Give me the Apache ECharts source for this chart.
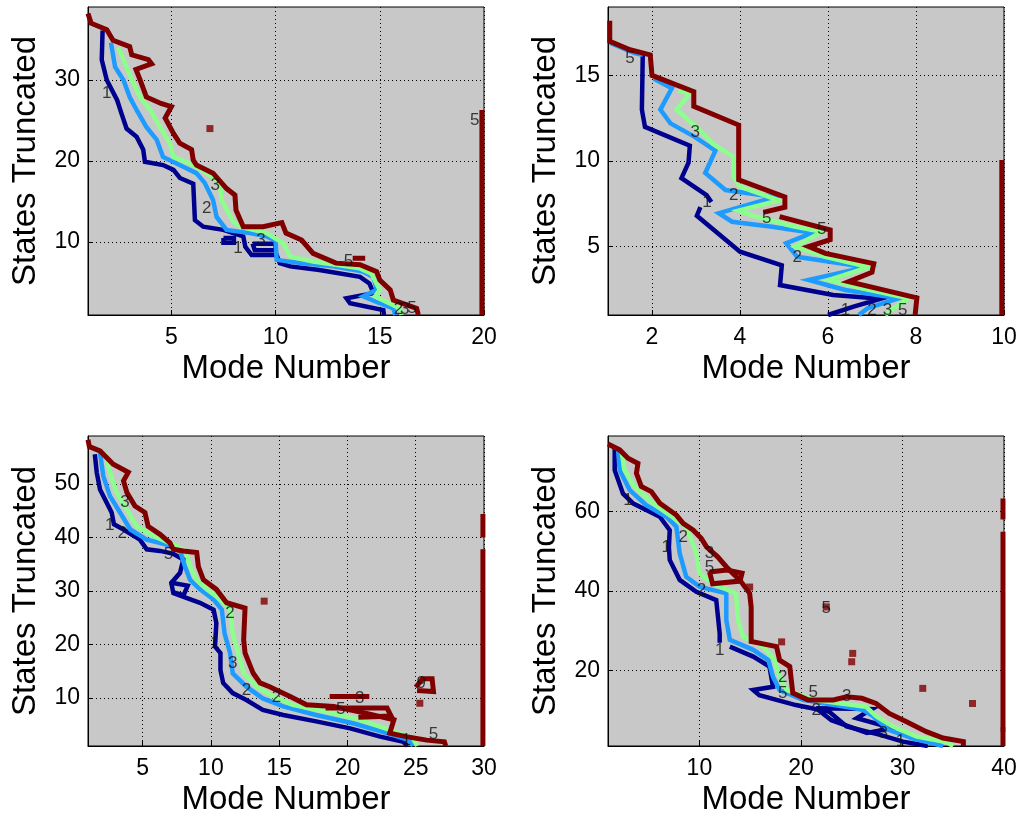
<!DOCTYPE html>
<html>
<head>
<meta charset="UTF-8">
<title>Mode Number vs States Truncated</title>
<script src="https://cdn.jsdelivr.net/npm/echarts@6/dist/echarts.min.js"></script>
<style>
  html, body { margin: 0; padding: 0; background: #fff; }
  #container { width: 1024px; height: 819px; }
</style>
</head>
<body>
<div id="container"></div>
<script>
// axis ranges and tick labels (one entry per panel)
var xMax = [20, 10, 30, 40];
var yMax = [39, 19, 59, 79];
var xTicks = [[5, 10, 15, 20], [2, 4, 6, 8, 10], [5, 10, 15, 20, 25, 30], [10, 20, 30, 40]];
var yTicks = [[10, 20, 30], [5, 10, 15], [10, 20, 30, 40, 50], [20, 40, 60]];

// panel 1 (20 modes) - contour levels 1, 2, 3, 5
var p1Level1 = [
  [[1.7,36.1],[1.66,32.5],[1.9,30.0],[2.4,27.5],[2.6,25.9],[2.85,24.0],[3.33,23.0],[3.65,21.4],[3.73,19.9],[4.6,19.5],[5.1,18.9],[5.41,17.9],[6.05,17.2],[6.13,12.7],[6.53,11.9],[7.49,11.5],[8.45,10.7],[8.55,9.4],[8.85,8.4],[10.05,8.4],[10.2,7.4],[10.7,7.0],[12.1,6.55],[14.05,5.7],[14.5,4.9],[14.7,3.7],[13.4,3.05],[13.57,2.45],[15.17,1.6],[15.2,1.0]],
  [[7.5,10.5],[8.0,10.5],[8.0,9.9],[7.5,9.9],[7.5,10.5]],
  [[8.9,9.8],[10.0,9.8],[10.0,9.0],[9.0,9.0],[8.9,9.8]]
];
var p1Level2 = [
  [[2.1,34.6],[2.3,31.6],[2.7,30.0],[3.0,27.9],[3.33,26.3],[3.8,24.2],[4.3,22.6],[4.6,20.5],[5.57,19.3],[6.2,18.5],[6.6,17.3],[7.0,15.2],[7.17,13.1],[7.65,11.5],[8.77,11.1],[9.57,10.7],[10.0,10.2],[10.05,7.8],[11.2,7.4],[12.77,7.0],[14.2,6.35],[14.7,5.7],[14.85,4.1],[14.2,3.3],[14.85,2.6],[15.65,1.8],[15.75,1.0]]
];
var p1Level3 = [
  [[2.45,34.0],[2.7,32.5],[3.1,30.0],[3.5,27.9],[3.98,26.3],[4.45,24.2],[4.93,22.2],[5.1,20.5],[5.9,19.7],[6.7,18.5],[7.33,17.25],[7.4,15.2],[7.97,12.5],[8.3,11.9],[9.57,11.1],[10.37,9.85],[10.7,8.2],[11.8,7.6],[14.05,6.75],[14.6,6.1],[15.0,4.1],[14.77,3.3],[15.33,2.6],[15.97,1.8],[16.05,1.0]],
  [[19.9,2.2],[19.9,3.0]]
];
var p1Level5 = [
  [[1.0,38.2],[1.15,37.0],[1.9,36.2],[2.2,34.9],[3.0,34.1],[3.1,33.1],[3.9,32.5],[4.05,32.0],[3.3,31.3],[3.5,30.0],[3.8,27.9],[4.5,27.1],[5.0,26.7],[4.7,25.3],[5.1,23.4],[5.4,22.2],[5.97,21.4],[6.05,20.1],[6.2,19.5],[7.0,18.5],[7.65,16.6],[8.05,15.8],[8.1,13.95],[8.45,11.9],[9.4,11.9],[10.3,12.4],[10.5,11.1],[11.25,10.25],[11.8,8.6],[12.9,7.4],[14.05,7.2],[14.85,6.35],[15.0,5.3],[15.5,4.1],[15.65,2.85],[16.77,1.8],[16.85,1.0]],
  [[13.7,8.0],[14.3,8.0]],
  [[19.9,1.0],[19.9,21.4],[19.9,26.3]]
];
var p1Spots = [[6.85, 24.0]];
var p1Labels = [['1',1.9,28.4],['3',7.1,17.0],['2',6.7,14.2],['1',8.2,9.2],['3',9.3,10.2],['5',13.5,7.6],['2',15.9,1.7],['3',16.2,1.7],['5',16.55,1.8],['5',19.55,25.0]];

// panel 2 (10 modes)
var p2Level1 = [
  [[1.79,16.2],[1.77,13.0],[1.84,12.0],[2.3,11.5],[2.86,10.9],[2.83,9.9],[2.67,9.0],[3.24,8.0],[3.35,7.6]],
  [[3.1,7.3],[3.02,6.8],[4.0,4.7],[4.95,3.9],[4.91,2.75],[6.12,2.17],[7.2,1.95],[6.6,1.5],[6.0,1.0]]
];
var p2Level2 = [
  [[1.05,16.9],[1.6,16.3],[1.79,16.2]],
  [[2.04,14.8],[2.45,14.25],[2.19,13.0],[2.42,12.2],[2.98,11.4],[3.44,10.6],[3.21,9.3],[3.67,8.3],[4.8,7.9],[3.52,6.95],[3.82,6.45],[4.73,6.16],[5.64,5.8],[5.05,5.2],[5.3,4.4],[6.85,3.8],[5.56,3.05],[6.39,2.46],[7.6,1.97],[6.9,1.4],[6.7,1.0]]
];
var p2Level3 = [
  [[1.45,16.55],[1.75,16.35]],
  [[2.6,14.1],[2.86,13.95],[2.56,13.0],[3.0,12.0],[3.39,11.0],[3.85,10.25],[3.85,9.1],[4.0,8.5],[4.88,7.7],[3.97,7.1],[4.3,6.8],[5.18,6.2],[5.86,5.87],[5.26,5.0],[5.94,4.4],[6.92,3.8],[6.02,3.05],[6.77,2.56],[7.83,1.97],[7.5,1.4],[7.3,1.0]],
  [[9.95,1.8],[9.95,2.3]]
];
var p2Level5 = [
  [[1.04,18.2],[1.04,17.0],[1.5,16.5],[1.96,16.2],[2.0,15.0],[2.95,14.05],[2.95,13.2],[3.97,12.1],[3.97,8.9],[5.02,7.9],[5.02,7.3],[4.53,7.0]],
  [[4.9,6.75],[6.05,5.97],[6.05,5.4],[5.56,5.0],[5.94,4.6],[7.04,4.0],[7.0,3.5],[6.47,2.95],[8.02,2.0],[7.98,1.0]],
  [[9.95,1.0],[9.95,10.06]]
];
var p2Spots = [];
var p2Labels = [['5',1.5,16.0],['3',2.98,11.7],['2',3.86,8.0],['1',3.25,7.6],['5',4.61,6.65],['5',5.86,6.0],['2',5.3,4.4],['1',6.4,1.25],['2',7.0,1.25],['3',7.35,1.25],['5',7.7,1.25]];

// panel 3 (30 modes)
var p3Level1 = [
  [[1.5,55.6],[1.64,52.2],[1.88,49.0],[2.37,46.5],[2.73,44.7],[2.9,42.5],[3.6,41.5],[4.8,39.6],[5.3,37.8],[6.27,37.5],[7.2,37.0],[7.98,35.9],[7.74,33.4],[7.1,31.5],[7.25,29.6],[8.2,28.7],[9.2,27.8],[10.2,26.5],[10.4,24.0],[10.3,19.6],[10.7,18.4],[10.7,15.2],[10.9,12.8],[11.6,10.9],[12.6,9.6],[13.8,7.75],[15.3,6.8],[17.7,5.6],[20.2,4.3],[22.4,2.75],[24.1,1.8],[24.4,1.0]],
  [[7.0,31.6],[8.3,31.0],[8.0,29.2],[7.2,29.8]]
];
var p3Level2 = [
  [[1.88,55.9],[2.12,51.5],[2.6,47.8],[3.2,45.3],[4.1,41.5],[5.3,39.6],[6.75,38.7],[7.74,37.5],[8.1,34.6],[8.47,32.1],[9.2,30.3],[10.2,28.4],[10.8,26.5],[11.0,22.1],[11.4,18.4],[11.6,14.6],[12.6,12.1],[13.8,9.9],[15.3,8.4],[17.7,6.8],[20.4,5.25],[22.9,3.4],[24.5,2.1],[24.8,1.0]]
];
var p3Level3 = [
  [[2.25,55.9],[2.6,52.2],[3.1,48.4],[3.7,45.9],[4.56,42.1],[5.8,40.3],[7.5,38.4],[8.2,37.2],[8.47,34.6],[8.96,32.1],[9.7,30.3],[10.7,28.4],[11.4,26.5],[11.6,22.1],[12.0,18.4],[12.4,14.6],[13.35,12.1],[14.6,10.25],[16.0,8.7],[18.5,7.4],[20.9,5.9],[23.1,4.0],[24.8,2.45],[25.1,1.0]],
  [[29.92,2.6],[29.92,3.6]]
];
var p3Level5 = [
  [[1.0,58.3],[1.1,57.0],[1.88,56.2],[2.85,53.7],[3.95,52.2],[3.6,50.6],[3.85,48.4],[4.44,45.9],[5.17,44.7],[5.4,42.1],[6.27,40.6],[7.0,39.0],[7.25,37.8],[7.98,37.5],[8.96,37.2],[9.08,34.6],[9.45,32.1],[10.4,30.3],[11.15,27.8],[12.5,26.8],[12.4,20.9],[12.5,18.4],[13.1,14.6],[13.6,12.8],[14.3,12.1],[15.8,10.25],[17.0,8.7],[19.0,8.4],[21.4,7.1],[23.4,5.9],[23.1,3.4],[24.3,2.75],[25.8,2.1],[27.1,1.8],[27.2,1.0]],
  [[18.7,10.25],[21.6,10.25]],
  [[18.4,8.1],[22.9,8.1],[23.2,6.6],[20.8,6.4]],
  [[25.0,12.0],[25.5,13.6],[26.2,13.6],[26.3,11.2],[25.1,11.4]],
  [[29.92,1.0],[29.92,37.8]],
  [[29.92,40.0],[29.92,44.4]]
];
var p3Spots = [[13.9, 28.1], [25.3, 9.0]];
var p3Labels = [['1',2.6,42.3],['2',3.5,40.8],['3',3.7,46.5],['5',6.9,36.9],['2',11.4,25.9],['1',10.3,20.3],['3',11.6,16.5],['2',12.6,11.5],['2',14.8,10.2],['3',20.9,10.0],['5',19.5,7.8],['9',25.4,12.8],['1',24.3,2.0],['5',26.3,3.1]];

// panel 4 (40 modes)
var p4Level1 = [
  [[1.66,75.9],[1.66,70.4],[2.48,64.5],[3.5,62.0],[4.77,60.4],[6.1,58.7],[7.08,55.3],[7.0,51.0],[7.08,47.8],[8.06,42.8],[9.7,39.8],[11.66,37.7],[12.0,29.3],[12.0,27.0]],
  [[13.0,26.0],[15.3,23.5],[16.9,21.0],[17.25,15.9],[15.3,15.1],[15.9,13.8],[19.5,11.3],[22.8,9.6],[24.5,5.9],[27.8,3.8],[30.05,2.1],[32.5,1.0]],
  [[21.5,10.5],[27.0,10.3],[25.5,8.0],[29.0,5.5],[26.5,4.3],[23.0,7.5],[21.5,10.5]],
  [[39.9,4.5],[39.9,5.8]]
];
var p4Level2 = [
  [[1.98,75.9],[2.15,70.4],[3.14,65.4],[4.77,61.6],[6.74,58.7],[7.73,56.2],[8.06,49.5],[8.7,43.6],[10.0,41.1],[12.65,39.4],[12.65,32.7],[13.0,27.7],[15.3,25.2],[16.8,22.6],[17.25,18.4],[17.9,15.1],[20.2,12.6],[26.1,10.1],[27.1,8.5],[28.7,5.0],[31.0,2.9],[34.0,1.0]]
];
var p4Level3 = [
  [[2.3,75.5],[2.64,70.4],[3.6,66.3],[5.4,62.1],[7.08,59.1],[8.7,56.2],[9.7,49.5],[10.0,44.4],[11.3,41.9],[13.6,39.4],[13.8,32.7],[14.3,28.5],[16.3,26.0],[17.4,22.6],[17.9,18.4],[18.6,15.1],[21.2,12.6],[26.4,10.9],[27.4,8.5],[29.0,6.0],[31.4,3.4],[34.3,2.0],[35.0,1.0]]
];
var p4Level5 = [
  [[1.0,77.0],[2.15,75.5],[2.97,73.4],[3.95,72.1],[3.8,69.6],[4.28,66.3],[5.27,65.0],[6.1,62.1],[7.73,59.1],[8.4,57.0],[9.4,55.3],[10.2,53.2],[10.7,51.1],[11.8,48.6],[12.65,46.1],[13.3,44.4],[13.97,42.8],[14.95,39.4],[15.1,36.0],[15.1,31.0],[15.1,27.3],[17.6,26.0],[17.9,22.6],[18.9,21.0],[19.2,14.3],[20.7,12.6],[23.2,12.6],[24.5,13.4],[26.0,13.0],[27.4,11.7],[28.7,9.2],[30.4,7.1],[32.35,4.6],[34.0,3.0],[36.0,2.1],[36.0,1.0]],
  [[11.0,44.8],[12.7,45.3],[14.2,44.5],[14.0,42.5],[11.3,41.8],[11.0,44.8]],
  [[39.9,1.0],[39.9,54.9]],
  [[39.9,58.0],[39.9,63.3]]
];
var p4Spots = [[18.1,27.2],[25.1,24.3],[25.0,22.2],[32.0,15.5],[36.9,11.7],[22.5,36.0],[14.95,41.0]];
var p4Labels = [['1',2.97,62.9],['1',6.74,51.1],['2',8.4,53.6],['3',11.0,49.5],['5',11.0,46.0],['2',10.2,40.2],['1',12.0,25.2],['2',18.2,18.4],['5',18.2,14.3],['5',21.2,14.6],['2',21.5,10.0],['3',24.5,13.4],['3',28.1,4.2],['1',29.8,2.1],['5',22.5,35.6]];

var panels = [
  [p1Level1, p1Level2, p1Level3, p1Level5, p1Spots, p1Labels],
  [p2Level1, p2Level2, p2Level3, p2Level5, p2Spots, p2Labels],
  [p3Level1, p3Level2, p3Level3, p3Level5, p3Spots, p3Labels],
  [p4Level1, p4Level2, p4Level3, p4Level5, p4Spots, p4Labels]
];

var levelColors = ['#00008f', '#1e9bff', '#8cff8c', '#800000'];
var font = 'Liberation Sans, Arial, sans-serif';

var grids = [
  {left: 88, top: 7, width: 396, height: 308},
  {left: 608, top: 7, width: 396, height: 308},
  {left: 88, top: 436, width: 396, height: 310},
  {left: 608, top: 436, width: 396, height: 310}
];
grids.forEach(function (g) {
  g.show = true;
  g.backgroundColor = '#c8c8c8';
  g.borderColor = '#000';
  g.borderWidth = 1;
});

var xAxes = [], yAxes = [], series = [];
for (var i = 0; i < 4; i++) {
  xAxes.push({
    gridIndex: i, type: 'value', min: 1, max: xMax[i],
    name: 'Mode Number', nameLocation: 'middle', nameGap: 37,
    nameTextStyle: {fontSize: 33, color: '#000', fontFamily: font},
    axisLine: {onZero: false, lineStyle: {color: '#000', width: 1}},
    axisTick: {inside: true, length: 5, customValues: xTicks[i], lineStyle: {color: '#000'}},
    axisLabel: {customValues: xTicks[i], fontSize: 23, color: '#000', margin: 11, fontFamily: font},
    splitLine: {show: true, lineStyle: {color: '#000', width: 1, type: [1, 3]}}
  });
  yAxes.push({
    gridIndex: i, type: 'value', min: 1, max: yMax[i],
    name: 'States Truncated', nameLocation: 'middle', nameGap: 46,
    nameTextStyle: {fontSize: 33, color: '#000', fontFamily: font},
    axisLine: {onZero: false, lineStyle: {color: '#000', width: 1}},
    axisTick: {inside: true, length: 5, customValues: yTicks[i], lineStyle: {color: '#000'}},
    axisLabel: {customValues: yTicks[i], fontSize: 23, color: '#000', margin: 8, fontFamily: font},
    splitLine: {show: true, lineStyle: {color: '#000', width: 1, type: [1, 3]}}
  });

  var p = panels[i];
  for (var lv = 0; lv < 4; lv++) {
    p[lv].forEach(function (line) {
      series.push({
        type: 'line', xAxisIndex: i, yAxisIndex: i, data: line,
        showSymbol: false, silent: true, z: 2 + lv,
        lineStyle: {color: levelColors[lv], width: lv === 3 ? 5 : 4.5, join: 'miter'}
      });
    });
  }
  series.push({
    type: 'scatter', xAxisIndex: i, yAxisIndex: i, data: p[4],
    symbol: 'rect', symbolSize: 7, silent: true, z: 6,
    itemStyle: {color: levelColors[3]}
  });
  series.push({
    type: 'scatter', xAxisIndex: i, yAxisIndex: i,
    data: p[5].map(function (l) { return {name: l[0], value: [l[1], l[2]]}; }),
    symbolSize: 0, silent: true, z: 10,
    label: {show: true, position: 'inside', formatter: '{b}', color: '#111', fontSize: 17, fontFamily: font}
  });
}

var chart = echarts.init(document.getElementById('container'), null, {renderer: 'canvas'});
chart.setOption({
  animation: false,
  backgroundColor: '#fff',
  grid: grids,
  xAxis: xAxes,
  yAxis: yAxes,
  series: series
});
</script>
</body>
</html>
